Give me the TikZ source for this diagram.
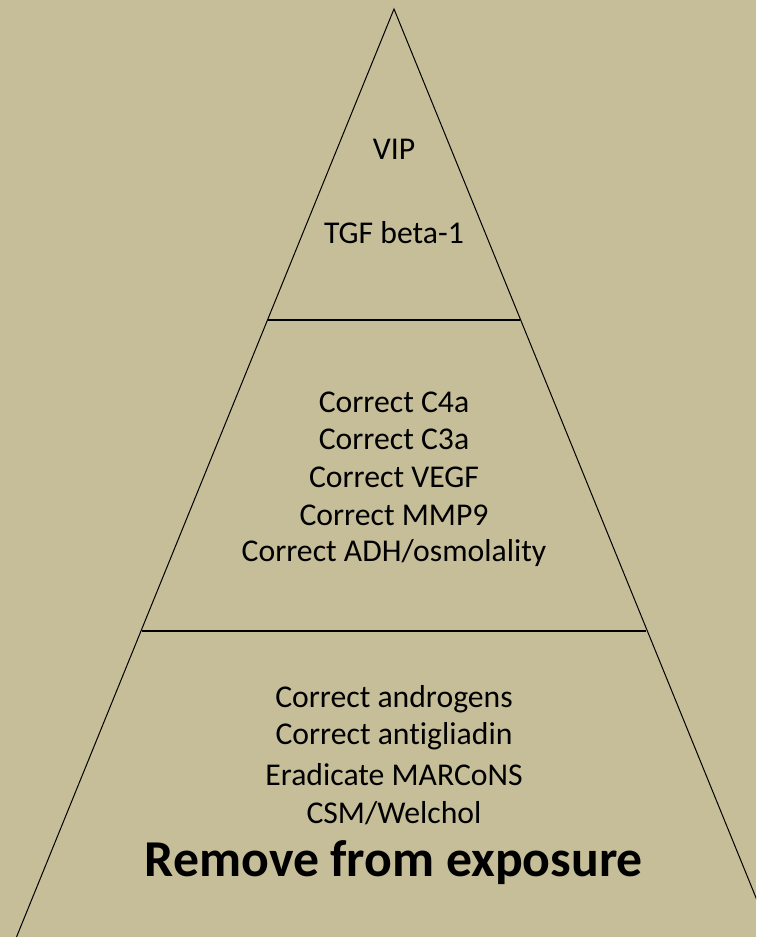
\documentclass[tikz,border=0pt]{standalone}
\usepackage{fontspec}
\setmainfont[Ligatures={NoCommon}]{Carlito}
\definecolor{bgtan}{RGB}{197,190,152}
\begin{document}
\begin{tikzpicture}[x=1pt,y=-1pt,
  txt/.style={inner sep=0pt,font=\fontsize{31.7}{31.7}\selectfont,anchor=center},
  big/.style={inner sep=0pt,font=\fontsize{51.7}{51.7}\selectfont\bfseries,anchor=center},
  side/.style={line width=1pt,black},
  band/.style={line width=1.4pt,black}]
\fill[bgtan] (0,0) rectangle (756,937);
\useasboundingbox (0,0) rectangle (756,937);
\begin{scope}
\clip (0,0) rectangle (756,937);
\coordinate (apex) at (394,9);
\coordinate (bl) at (16.5,937);
\coordinate (br) at (772,937);
\coordinate (l1) at (268,320);
\coordinate (r1) at (520,320);
\coordinate (l2) at (142,631);
\coordinate (r2) at (646,631);
\draw[side] (bl) -- (apex) -- (br);
\draw[band] (l1) -- (r1);
\draw[band] (l2) -- (r2);
\end{scope}
\node[txt] (vip) at (394,149) {VIP};
\node[txt] (tgf) at (394,233) {TGF beta-1};
\node[txt] (c4a) at (394,402) {Correct C4a};
\node[txt] (c3a) at (394,439) {Correct C3a};
\node[txt] (vegf) at (394,477) {Correct VEGF};
\node[txt] (mmp) at (394,515) {Correct MMP9};
\node[txt] (adh) at (394,553) {Correct ADH/osmolality};
\node[txt] (andr) at (394,699) {Correct androgens};
\node[txt] (anti) at (394,736) {Correct antigliadin};
\node[txt] (marc) at (394,775) {Eradicate MARCoNS};
\node[txt] (csm) at (394,813) {CSM/Welchol};
\node[big] (rem) at (394,863) {Remove from exposure};
\end{tikzpicture}
\end{document}
